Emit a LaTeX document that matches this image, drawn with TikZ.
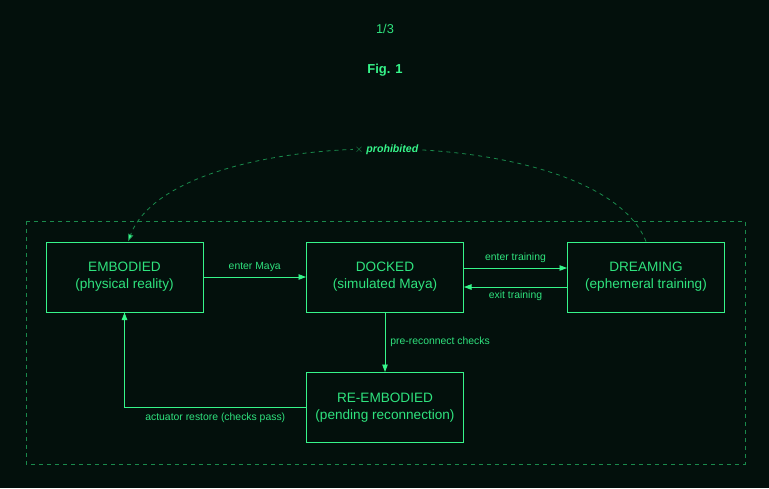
\documentclass[tikz,border=0pt]{standalone}
\usepackage{fontspec}
\setmainfont{Liberation Sans}
\usetikzlibrary{arrows.meta}
\definecolor{bgdark}{HTML}{03100C}
\definecolor{phos}{HTML}{36F58A}
\definecolor{phostext}{HTML}{2FE37E}
\definecolor{phosdim}{HTML}{1A8A4C}
\begin{document}
\begin{tikzpicture}[x=1pt,y=-1pt,
    state/.style={draw=phos,line width=1pt,minimum width=157pt,minimum height=70pt,
      align=center,text=phostext,font=\fontsize{13.6}{17}\selectfont},
    trans/.style={draw=phos,line width=0.8pt,-{Triangle[length=7.5pt,width=5.5pt]}},
    lbl/.style={text=phostext,font=\fontsize{10.4}{12}\selectfont,inner sep=0pt}]
  \fill[bgdark] (0,0) rectangle (769,488);
  \useasboundingbox (0,0) rectangle (769,488);
  % Kopf
  \node[text=phostext,font=\fontsize{12.8}{14}\selectfont] (page) at (385,29) {1/3};
  \node[text=phos,font=\bfseries\fontsize{13}{15}\selectfont] (fig) at (385,70) {Fig. 1};
  % Rahmen
  \draw[phosdim,line width=0.8pt,dash pattern=on 4pt off 4pt] (26,221) rectangle (745,464);
  % Zustaende
  \node[state] (emb) at (124.5,277) {EMBODIED\\(physical reality)};
  \node[state] (dock) at (385,277) {DOCKED\\(simulated Maya)};
  \node[state] (dream) at (646,277) {DREAMING\\(ephemeral training)};
  \node[state] (re) at (385,407.5) {RE-EMBODIED\\(pending reconnection)};
  % Uebergaenge
  \draw[trans] (emb.east) -- node[lbl,above=5pt] {enter Maya} (dock.west);
  \draw[trans] ([yshift=9pt]dock.east) -- node[lbl,above=4.5pt] {enter training} ([yshift=9pt]dream.west);
  \draw[trans] ([yshift=-10pt]dream.west) -- node[lbl,below=4pt] {exit training} ([yshift=-10pt]dock.west -| dock.east);
  \draw[trans] (dock.south) -- node[lbl,right=5pt] {pre-reconnect checks} (re.north);
  \draw[trans] (re.west) -| node[lbl,pos=0.25,below=5pt] {actuator restore (checks pass)} (emb.south);
  % verboten
  \draw[phosdim,line width=0.8pt,dash pattern=on 4pt off 4pt,-{Triangle[length=7.5pt,width=5.5pt,fill=phos]}]
    (dream.north) .. controls (598,119) and (175,119) .. node[pos=0.5,fill=bgdark,inner sep=1.5pt,
      font=\fontsize{10.6}{12}\selectfont] {\textcolor{phosdim!80!phos}{$\times$}~\textcolor{phos}{\bfseries\itshape prohibited}}
    ([xshift=3.5pt]emb.north);
\end{tikzpicture}
\end{document}
